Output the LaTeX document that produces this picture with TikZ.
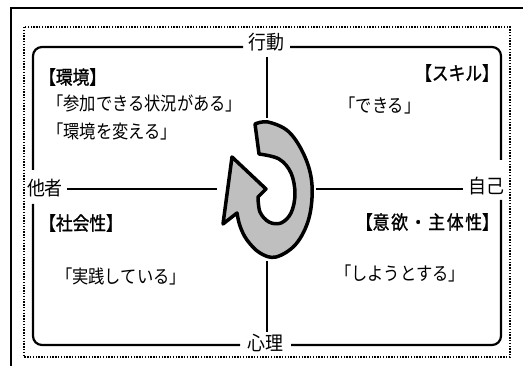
\documentclass[tikz,border=0pt]{standalone}
\usepackage{fontspec}
\newfontfamily\jp[FakeStretch=0.88]{Noto Sans CJK JP}
\newfontfamily\jpb[FakeStretch=0.88, FakeBold=1.3]{Noto Sans CJK JP}
\newfontfamily\jpa[FakeStretch=0.92]{Noto Sans CJK JP}
\begin{document}
\begin{tikzpicture}[x=1pt,y=-1pt]
\tikzset{
 frameline/.style={line width=2.4pt},
 dotframe/.style={line width=1.6pt, dash pattern=on 1.4pt off 1.4pt},
 quadline/.style={line width=2.2pt, rounded corners=9pt},
 axisline/.style={line width=1.6pt},
 axislabel/.style={font=\jpa\fontsize{19.5}{19.5}\selectfont, inner sep=0pt},
 headtxt/.style={font=\jpb\fontsize{19}{19}\selectfont, inner sep=0pt},
 bodytxt/.style={font=\jp\fontsize{18.5}{18.5}\selectfont, inner sep=0pt},
 cyclearrow/.style={fill=black!25, draw=black, line width=3.5pt, line join=round},
}
\useasboundingbox[fill=white] (0,0) rectangle (523,366);
% outer frame (cropped)
\draw[frameline] (11,366) -- (11,8) -- (523,8);
% dotted frame
\draw[dotframe] (24,27) rectangle (510,357);
% axis labels
\node[axislabel] (koudou) at (266,42) {行動};
\node[axislabel] (shinri) at (265,343) {心理};
\node[axislabel] (tasha) at (45,188) {他者};
\node[axislabel] (jiko) at (486,186) {自己};
% quadrant frame segments
\draw[quadline] (243,47) -- (33,47) -- (33,170);
\draw[quadline] (290,47) -- (501,47) -- (501,160);
\draw[quadline] (33,204) -- (33,345) -- (240,345);
\draw[quadline] (501,200) -- (501,345) -- (291,345);
% axes
\coordinate (hl) at (217,189);
\coordinate (hr) at (316,189);
\coordinate (vt) at (267,118);
\coordinate (vb) at (267,261);
\draw[axisline] (67,189) -- (hl);
\draw[axisline] (hr) -- (463,189);
\draw[axisline] (267,57) -- (vt);
\draw[axisline] (vb) -- (267,332);
% circular arrow
\draw[cyclearrow] (255,124)
  -- plot[smooth, tension=0.6] coordinates {(255,124) (268,122) (289,132) (305,157) (312,185) (309,218) (296,244) (276,257) (260,253) (247,240) (240,226) (237,213)}
  -- (223,224) -- (232,157) -- (266,189) -- (258,197)
  -- plot[smooth, tension=0.6] coordinates {(258,197) (260,212) (269,222) (281,223) (291,213) (295,194) (291,173) (279,159) (259,154)}
  -- cycle;
% quadrant texts
\node[headtxt, anchor=west] (kankyo) at (39,77) {【環境】};
\node[bodytxt, anchor=west] (sanka) at (47,103) {「参加できる状況がある」};
\node[bodytxt, anchor=west] (kaeru) at (47,131) {「環境を変える」};
\node[headtxt, anchor=east] (skill) at (499,73) {【スキル】};
\node[bodytxt] (dekiru) at (380,105) {「できる」};
\node[headtxt, anchor=west] (shakai) at (39,223) {【社会性】};
\node[bodytxt] (jissen) at (121,276) {「実践している」};
\node[headtxt, anchor=east] (iyoku) at (499,222) {【意\kern1.8pt 欲\kern1.8pt ・\kern1.8pt 主\kern1.8pt 体\kern1.8pt 性】};
\node[bodytxt] (shiyou) at (400,273) {「しようとする」};
\end{tikzpicture}
\end{document}
